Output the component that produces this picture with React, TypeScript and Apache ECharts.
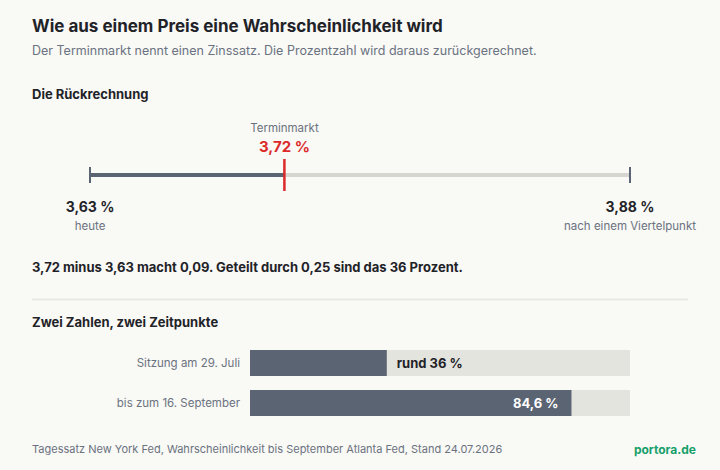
import React, { useEffect, useRef } from "react";
import * as echarts from "echarts";

// Zinssätze auf der Skala: heute, Terminmarkt, nach einem Viertelpunkt
const rateNames = ["heute", "Terminmarkt", "nach einem Viertelpunkt"];
const rateValues = [3.63, 3.72, 3.88];
const cutStep = 0.25;

// Wahrscheinlichkeiten je Zeitpunkt (in Prozent)
const barCategories = ["Sitzung am 29. Juli", "bis zum 16. September"];
const barValues = [36, 84.6];
const barPrefixes = ["rund ", ""];

const FONT = "Inter, 'Noto Sans', sans-serif";
const DARK = "#5b6473";
const TRACK = "#e4e4df";
const RANGE_LIGHT = "#d6d6d0";
const RED = "#dc2a2a";
const INK = "#1f2328";
const GREY = "#6b7280";
const BG = "#f9f9f6";

const de = (v: number, digits?: number) =>
  (digits === undefined ? String(v) : v.toFixed(digits)).replace(".", ",");

export default function App() {
  const ref = useRef<HTMLDivElement>(null);

  useEffect(() => {
    if (!ref.current) return;
    const chart = echarts.init(ref.current, null, { renderer: "svg" });

    const [today, market, cut] = rateValues;
    const diff = market - today;
    const prob = Math.round((diff / cutStep) * 100);
    const calcText = `${de(market, 2)} minus ${de(today, 2)} macht ${de(diff, 2)}. Geteilt durch ${de(
      cutStep,
      2
    )} sind das ${prob} Prozent.`;

    const txt = (
      text: string,
      x: number,
      y: number,
      font: string,
      fill: string,
      align: string = "left"
    ) => ({
      type: "text",
      x,
      y,
      silent: true,
      style: { text, font, fill, align, verticalAlign: "middle" },
    });

    chart.setOption({
      animation: false,
      backgroundColor: BG,
      textStyle: { fontFamily: FONT },
      grid: [
        { left: 90, width: 540, top: 165, height: 20 },
        { left: 250, width: 380, top: 343, height: 80 },
      ],
      xAxis: [
        { type: "value", gridIndex: 0, min: today, max: cut, show: false },
        { type: "value", gridIndex: 1, min: 0, max: 100, show: false },
      ],
      yAxis: [
        { type: "value", gridIndex: 0, min: -1, max: 1, show: false },
        {
          type: "category",
          gridIndex: 1,
          data: barCategories,
          inverse: true,
          axisLine: { show: false },
          axisTick: { show: false },
          axisLabel: { color: GREY, fontSize: 11.5, fontFamily: FONT, margin: 10 },
        },
      ],
      series: [
        {
          type: "line",
          xAxisIndex: 0,
          yAxisIndex: 0,
          data: [
            [market, 0],
            [cut, 0],
          ],
          symbol: "none",
          lineStyle: { color: RANGE_LIGHT, width: 4 },
          silent: true,
          z: 2,
        },
        {
          type: "line",
          xAxisIndex: 0,
          yAxisIndex: 0,
          data: [
            [today, 0],
            [market, 0],
          ],
          symbol: "none",
          lineStyle: { color: DARK, width: 4 },
          silent: true,
          z: 3,
        },
        {
          type: "scatter",
          xAxisIndex: 0,
          yAxisIndex: 0,
          symbol: "rect",
          symbolSize: [2, 16],
          itemStyle: { color: DARK, opacity: 1 },
          z: 4,
          data: [
            { value: [today, 0], name: rateNames[0] },
            { value: [cut, 0], name: rateNames[2] },
          ],
          label: {
            show: true,
            position: "bottom",
            distance: 13,
            formatter: (p: any) => `{v|${de(p.value[0], 2)} %}\n{n|${p.name}}`,
            rich: {
              v: { fontSize: 14, fontWeight: "bold", color: INK, lineHeight: 20, fontFamily: FONT, align: "center" },
              n: { fontSize: 11.5, color: GREY, lineHeight: 20, fontFamily: FONT, align: "center" },
            },
          },
        },
        {
          type: "scatter",
          xAxisIndex: 0,
          yAxisIndex: 0,
          symbol: "rect",
          symbolSize: [2.5, 32],
          itemStyle: { color: RED, opacity: 1 },
          z: 5,
          data: [{ value: [market, 0], name: rateNames[1] }],
          label: {
            show: true,
            position: "top",
            distance: 4,
            formatter: (p: any) => `{t|${p.name}}\n{v|${de(p.value[0], 2)} %}`,
            rich: {
              t: { fontSize: 11.5, color: GREY, lineHeight: 18, fontFamily: FONT, align: "center" },
              v: { fontSize: 15, fontWeight: "bold", color: RED, lineHeight: 18, fontFamily: FONT, align: "center" },
            },
          },
        },
        {
          type: "bar",
          xAxisIndex: 1,
          yAxisIndex: 1,
          barWidth: 26,
          showBackground: true,
          backgroundStyle: { color: TRACK },
          itemStyle: { color: DARK },
          data: barValues.map((v, i) => ({
            value: v,
            label:
              i === 0
                ? { position: "right", distance: 10, color: INK }
                : { position: "insideRight", distance: 13, color: "#ffffff" },
          })),
          label: {
            show: true,
            fontSize: 13,
            fontWeight: "bold",
            fontFamily: FONT,
            formatter: (p: any) => `${barPrefixes[p.dataIndex]}${de(p.value)} %`,
          },
        },
      ],
      graphic: [
        txt("Wie aus einem Preis eine Wahrscheinlichkeit wird", 32, 26, `bold 17px ${FONT}`, INK),
        txt(
          "Der Terminmarkt nennt einen Zinssatz. Die Prozentzahl wird daraus zurückgerechnet.",
          32,
          50,
          `12.5px ${FONT}`,
          GREY
        ),
        txt("Die Rückrechnung", 32, 94, `bold 13px ${FONT}`, INK),
        txt(calcText, 32, 267, `bold 13px ${FONT}`, INK),
        {
          type: "line",
          silent: true,
          shape: { x1: 32, y1: 299.5, x2: 688, y2: 299.5 },
          style: { stroke: "#e9e9e4", lineWidth: 2 },
        },
        txt("Zwei Zahlen, zwei Zeitpunkte", 32, 322, `bold 13px ${FONT}`, INK),
        txt(
          "Tagessatz New York Fed, Wahrscheinlichkeit bis September Atlanta Fed, Stand 24.07.2026",
          32,
          449,
          `11px ${FONT}`,
          GREY
        ),
        txt("portora.de", 696, 449, `bold 12px ${FONT}`, "#17a06a", "right"),
      ],
    });

    return () => chart.dispose();
  }, []);

  return (
    <div
      ref={ref}
      style={{ position: "absolute", left: 0, top: 0, width: 720, height: 470, background: BG }}
    />
  );
}
